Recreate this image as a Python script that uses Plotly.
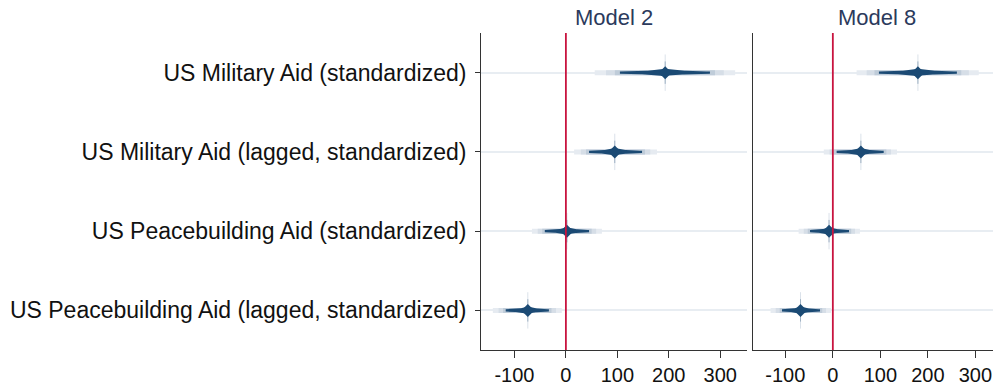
import numpy as np
import plotly.graph_objects as go

labels = ["US Military Aid (standardized)",
          "US Military Aid (lagged, standardized)",
          "US Peacebuilding Aid (standardized)",
          "US Peacebuilding Aid (lagged, standardized)"]
rows = [1, 2, 3, 4]

m2_coef = [193, 95, 2, -74]
m2_lo_inner = [105, 45, -41, -117]
m2_hi_inner = [280, 148, 45, -33]
m2_lo_outer = [56, 16, -66, -142]
m2_hi_outer = [329, 177, 70, -8]

m8_coef = [179, 59, -8, -68]
m8_lo_inner = [97, 8, -48, -107]
m8_hi_inner = [261, 107, 34, -27]
m8_lo_outer = [50, -19, -72, -131]
m8_hi_outer = [307, 135, 57, -4]

x_ticks = [-100, 0, 100, 200, 300]

W, H = 993, 387
DARK = "#1b4a74"
PX_Y = (350 - 33) / 4.0  # pixels per row unit

def px(v):
    return v / W

def py(v):
    return 1 - v / H

fig = go.Figure()

def add_panel(xa, ya, coef, lo_i, hi_i, lo_o, hi_o):
    for r, c, li, hi, lo, ho in zip(rows, coef, lo_i, hi_i, lo_o, hi_o):
        for frac, col in [(1.0, "#e6ebf1"), (0.55, "#d6dee7"), (0.2, "#bfccd9")]:
            a = li - frac * (li - lo)
            b = hi + frac * (ho - hi)
            fig.add_trace(go.Scatter(x=[a, b], y=[r, r], mode="lines",
                                     line=dict(color=col, width=5),
                                     xaxis=xa, yaxis=ya, hoverinfo="skip", showlegend=False))
        t = np.linspace(0, 1, 40)
        h = (1.2 + 2.6 * (1 - t) ** 2.5) / PX_Y
        xr = c + t * (hi - c)
        xl = c - t * (c - li)
        pxs = np.concatenate([xr, xr[::-1], xl, xl[::-1]])
        pys = np.concatenate([r - h, (r + h)[::-1], r + h, (r - h)[::-1]])
        fig.add_trace(go.Scatter(x=pxs, y=pys, mode="lines", fill="toself",
                                 fillcolor=DARK, line=dict(width=0, color=DARK),
                                 xaxis=xa, yaxis=ya, hoverinfo="skip", showlegend=False))
        fig.add_trace(go.Scatter(x=[c], y=[r], mode="markers",
                                 marker=dict(symbol="line-ns", size=26,
                                             line=dict(color="#dbe2ea", width=1)),
                                 xaxis=xa, yaxis=ya, hoverinfo="skip", showlegend=False))
        fig.add_trace(go.Scatter(x=[c], y=[r], mode="markers",
                                 marker=dict(symbol="line-ns", size=16,
                                             line=dict(color="#9fb1c3", width=1)),
                                 xaxis=xa, yaxis=ya, hoverinfo="skip", showlegend=False))
        fig.add_trace(go.Scatter(x=[c], y=[r], mode="markers",
                                 marker=dict(symbol="diamond", size=10, color=DARK,
                                             line=dict(width=0)),
                                 xaxis=xa, yaxis=ya, hoverinfo="skip", showlegend=False))

add_panel("x", "y", m2_coef, m2_lo_inner, m2_hi_inner, m2_lo_outer, m2_hi_outer)
add_panel("x2", "y2", m8_coef, m8_lo_inner, m8_hi_inner, m8_lo_outer, m8_hi_outer)

font = "Liberation Sans, Arial, sans-serif"
ydom = [py(350), py(33)]
xcommon = dict(tickvals=x_ticks, ticktext=[str(v) for v in x_ticks], showgrid=False,
               zeroline=False, showline=True, linecolor="#333333", linewidth=1,
               ticks="outside", ticklen=7, tickcolor="#333333", tickwidth=1,
               tickfont=dict(family=font, size=20, color="#111111"), fixedrange=True)
ycommon = dict(range=[4.5, 0.5], tickvals=rows, showgrid=True, gridcolor="#e8edf2",
               gridwidth=1.5, zeroline=False, showline=True, linecolor="#333333",
               linewidth=1, domain=ydom, fixedrange=True)

fig.update_layout(
    width=W, height=H, margin=dict(l=0, r=0, t=0, b=0),
    paper_bgcolor="white", plot_bgcolor="white", showlegend=False,
    xaxis=dict(domain=[px(481), px(747)], range=[-165, 352], anchor="y", **xcommon),
    xaxis2=dict(domain=[px(753), 1.0], range=[-168, 337], anchor="y2", **xcommon),
    yaxis=dict(anchor="x", ticktext=labels, ticks="outside", ticklen=5,
               tickcolor="#333333", ticklabelstandoff=4,
               tickfont=dict(family=font, size=23, color="#111111"), **ycommon),
    yaxis2=dict(anchor="x2", showticklabels=False, ticks="", **ycommon),
)

for xa in ["x", "x2"]:
    fig.add_shape(type="line", xref=xa, yref=("y domain" if xa == "x" else "y2 domain"),
                  x0=0, x1=0, y0=0, y1=1, line=dict(color="#c8143f", width=1.8))

for txt, xc in [("Model 2", 614), ("Model 8", 877)]:
    fig.add_annotation(text=txt, x=px(xc), y=py(17), xref="paper", yref="paper",
                       showarrow=False, xanchor="center", yanchor="middle",
                       font=dict(family=font, size=22, color="#2b3a5c"))

fig.write_html("out.html", config={"displayModeBar": False},
               post_script="document.body.style.margin='0';document.body.style.overflow='hidden';")
